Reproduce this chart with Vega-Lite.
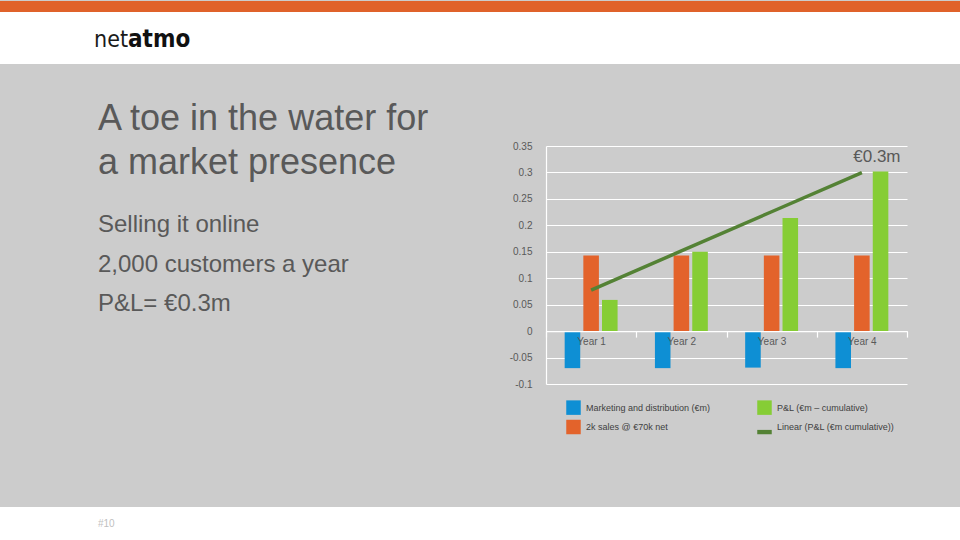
{
  "$schema": "https://vega.github.io/schema/vega-lite/v6.json",
  "background": "#cccccc",
  "padding": 0,
  "spacing": 0,
  "bounds": "full",
  "config": {
    "view": {"stroke": null},
    "concat": {"spacing": 0},
    "font": "Liberation Sans"
  },
  "datasets": {
    "bars": [
      {"year": "Year 1", "series": "Marketing and distribution (€m)", "value": -0.070},
      {"year": "Year 2", "series": "Marketing and distribution (€m)", "value": -0.070},
      {"year": "Year 3", "series": "Marketing and distribution (€m)", "value": -0.069},
      {"year": "Year 4", "series": "Marketing and distribution (€m)", "value": -0.070},
      {"year": "Year 1", "series": "2k sales @ €70k net", "value": 0.143},
      {"year": "Year 2", "series": "2k sales @ €70k net", "value": 0.143},
      {"year": "Year 3", "series": "2k sales @ €70k net", "value": 0.143},
      {"year": "Year 4", "series": "2k sales @ €70k net", "value": 0.143},
      {"year": "Year 1", "series": "P&L (€m – cumulative)", "value": 0.059},
      {"year": "Year 2", "series": "P&L (€m – cumulative)", "value": 0.150},
      {"year": "Year 3", "series": "P&L (€m – cumulative)", "value": 0.214},
      {"year": "Year 4", "series": "P&L (€m – cumulative)", "value": 0.302}
    ],
    "trend": [
      {"year": "Year 1", "value": 0.0775},
      {"year": "Year 2", "value": 0.1516},
      {"year": "Year 3", "value": 0.2257},
      {"year": "Year 4", "value": 0.2998}
    ],
    "note": [
      {"year": "Year 4", "value": 0.3, "label": "€0.3m"}
    ],
    "blank": [{}]
  },
  "vconcat": [
    {
      "width": 960,
      "height": 11,
      "view": {"fill": "#e0622a", "stroke": null},
      "data": {"name": "blank"},
      "mark": "text",
      "encoding": {"text": {"value": ""}}
    },
    {
      "spacing": 0,
      "bounds": "flush",
      "hconcat": [
        {
          "width": 128,
          "height": 52,
          "view": {"fill": "white", "stroke": null},
          "title": {
            "text": "net",
            "anchor": "end",
            "frame": "group",
            "offset": -40,
            "font": "DejaVu Sans Condensed, Roboto",
            "fontSize": 23,
            "fontWeight": 200,
            "color": "#1a1a1a"
          },
          "data": {"name": "blank"},
          "mark": "text",
          "encoding": {"text": {"value": ""}}
        },
        {
          "width": 832,
          "height": 52,
          "view": {"fill": "white", "stroke": null},
          "title": {
            "text": "atmo",
            "anchor": "start",
            "frame": "group",
            "offset": -40,
            "font": "DejaVu Sans Condensed, Roboto",
            "fontSize": 24,
            "fontWeight": "bold",
            "color": "#111111"
          },
          "data": {"name": "blank"},
          "mark": "text",
          "encoding": {"text": {"value": ""}}
        }
      ]
    },
    {
      "spacing": 0,
      "bounds": "flush",
      "hconcat": [
        {
          "width": 546,
          "height": 443,
          "title": {
            "text": ["A toe in the water for", "a market presence"],
            "subtitle": ["Selling it online", "2,000 customers a year", "P&L= €0.3m"],
            "anchor": "start",
            "frame": "group",
            "dx": 98,
            "offset": -253,
            "font": "Liberation Sans",
            "fontSize": 36,
            "fontWeight": "normal",
            "lineHeight": 44,
            "color": "#595959",
            "subtitleFont": "Liberation Sans",
            "subtitleFontSize": 24,
            "subtitleLineHeight": 39.5,
            "subtitleColor": "#595959",
            "subtitlePadding": 31
          },
          "data": {"name": "blank"},
          "mark": "text",
          "encoding": {"text": {"value": ""}}
        },
        {
          "spacing": 0,
          "bounds": "flush",
          "vconcat": [
            {
              "width": 361,
              "height": 82,
              "data": {"name": "blank"},
              "mark": "text",
              "encoding": {"text": {"value": ""}}
            },
            {
              "width": 361,
              "height": 238,
              "encoding": {
                "x": {
                  "field": "year",
                  "type": "nominal",
                  "scale": {"paddingInner": 0, "paddingOuter": 0},
                  "axis": {
                    "title": null,
                    "orient": "bottom",
                    "offset": -52.89,
                    "labelAngle": 0,
                    "domainColor": "white",
                    "domainWidth": 1.2,
                    "tickBand": "extent",
                    "tickColor": "white",
                    "tickWidth": 1.2,
                    "tickSize": 6,
                    "labelPadding": -1,
                    "labelFont": "Liberation Sans",
                    "labelFontSize": 10,
                    "labelColor": "#595959",
                    "zindex": 1
                  }
                },
                "y": {
                  "field": "value",
                  "type": "quantitative",
                  "scale": {"domain": [-0.1, 0.35], "nice": false, "zero": false},
                  "axis": {
                    "title": null,
                    "values": [-0.1, -0.05, 0, 0.05, 0.1, 0.15, 0.2, 0.25, 0.3, 0.35],
                    "labelExpr": "'' + datum.value",
                    "labelOverlap": false,
                    "grid": true,
                    "gridColor": "white",
                    "gridWidth": 1.2,
                    "gridOpacity": 1,
                    "domainColor": "white",
                    "domainWidth": 1.2,
                    "ticks": false,
                    "labelPadding": 14,
                    "labelFont": "Liberation Sans",
                    "labelFontSize": 10,
                    "labelColor": "#595959"
                  }
                }
              },
              "layer": [
                {
                  "data": {"name": "bars"},
                  "mark": {"type": "bar"},
                  "encoding": {
                    "xOffset": {
                      "field": "series",
                      "type": "nominal",
                      "scale": {
                        "domain": ["Marketing and distribution (€m)", "2k sales @ €70k net", "P&L (€m – cumulative)"],
                        "paddingInner": 0.1667,
                        "paddingOuter": 1.083
                      }
                    },
                    "color": {
                      "field": "series",
                      "type": "nominal",
                      "scale": {
                        "domain": ["Marketing and distribution (€m)", "2k sales @ €70k net", "P&L (€m – cumulative)", "Linear (P&L (€m cumulative))"],
                        "range": ["#0e8fd4", "#e3632b", "#86cd35", "#548235"]
                      },
                      "legend": {
                        "title": null,
                        "orient": "none",
                        "legendX": 566,
                        "legendY": 399,
                        "columns": 2,
                        "padding": 0,
                        "symbolType": "square",
                        "symbolSize": 210,
                        "symbolStrokeWidth": 0,
                        "symbolOpacity": 1,
                        "labelFont": "Liberation Sans",
                        "labelFontSize": 9,
                        "labelColor": "#404040",
                        "labelOffset": 5,
                        "labelLimit": 300,
                        "columnPadding": 46,
                        "rowPadding": 4.5,
                        "encode": {
                          "symbols": {
                            "update": {
                              "shape": {"signal": "datum.value === 'Linear (P&L (€m cumulative))' ? 'M-1,0.4H1V1H-1Z' : 'square'"},
                              "fill": [
                                {"test": "datum.value === '2k sales @ €70k net'", "value": "#fa6712"},
                                {"scale": "color", "field": "value"}
                              ]
                            }
                          }
                        }
                      }
                    }
                  }
                },
                {
                  "data": {"name": "trend"},
                  "mark": {"type": "line", "color": "#548235", "strokeWidth": 3.5}
                },
                {
                  "data": {"name": "note"},
                  "mark": {"type": "text", "align": "center", "baseline": "alphabetic", "dx": 15, "dy": -10, "fontSize": 17, "color": "#595959", "font": "Liberation Sans"},
                  "encoding": {
                    "text": {"field": "label"}
                  }
                }
              ]
            }
          ]
        }
      ]
    },
    {
      "width": 960,
      "height": 34,
      "view": {"fill": "white", "stroke": null},
      "title": {
        "text": "#10",
        "anchor": "start",
        "frame": "group",
        "dx": 98,
        "offset": -22,
        "font": "Liberation Sans",
        "fontSize": 10,
        "fontWeight": "normal",
        "color": "#bfbfbf"
      },
      "data": {"name": "blank"},
      "mark": "text",
      "encoding": {"text": {"value": ""}}
    }
  ]
}
